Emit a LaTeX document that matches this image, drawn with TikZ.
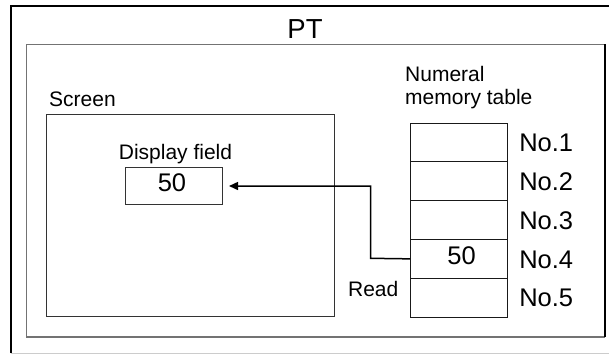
\documentclass[tikz,border=0pt]{standalone}
\usepackage{fontspec}
\setmainfont{Liberation Sans}
\usetikzlibrary{arrows.meta}
\begin{document}
\begin{tikzpicture}[x=1pt,y=-1pt,
  lbl/.style={inner sep=0pt,font=\fontsize{21}{24}\selectfont},
  nolbl/.style={inner sep=0pt,font=\fontsize{25.5}{28}\selectfont},
  cell/.style={draw=black!90,line width=1.1pt,minimum width=97pt,minimum height=38.8pt,inner sep=0pt,anchor=north west},
  thinbox/.style={draw=black!80,line width=1pt}]
\useasboundingbox (0,0) rectangle (609,354);
% outer frame
\draw[line width=1.8pt,black] (10.7,353) -- (10.7,5.8) -- (612,5.8);
\draw[line width=0.8pt,black!20] (10.7,353) -- (612,353);
% inner frame
\draw[line width=1.1pt,black!55] (605,44.3) -- (26.7,44.3) -- (26.7,337) -- (605,337);
\draw[line width=1.1pt,black] (605,44.3) -- (605,337);
\node[inner sep=0pt,font=\fontsize{27.5}{30}\selectfont,anchor=base] (pt) at (305,38) {PT};
% screen
\node[thinbox,anchor=north west,minimum width=288pt,minimum height=202pt,inner sep=0pt] (screen) at (46,114) {};
\node[lbl,anchor=base west] (screenlbl) at (49,106.5) {Screen};
\node[lbl,anchor=base] (dflbl) at (175.5,159) {Display field};
\node[thinbox,anchor=north west,minimum width=97pt,minimum height=37pt,inner sep=0pt] (df) at (125,167) {};
\node[nolbl,anchor=base] (dfval) at (172,191) {50};
% table
\node[lbl,anchor=base west] (num1) at (405,81.7) {Numeral};
\node[lbl,anchor=base west] (num2) at (405,104.5) {memory table};
\node[cell] (c1) at (410,122.5) {};
\node[cell] (c2) at (410,161.3) {};
\node[cell] (c3) at (410,200.1) {};
\node[cell] (c4) at (410,238.9) {};
\node[cell] (c5) at (410,277.7) {};
\node[nolbl,anchor=base] (c4val) at (461.5,264.5) {50};
\foreach \i in {1,...,5} {
  \node[nolbl,anchor=base west] (no\i) at ([xshift=11pt,yshift=-9.2pt]c\i.east) {No.\i};
}
\node[lbl,anchor=base east] (read) at (398.5,296.5) {Read};
% connector
\coordinate (bend) at (370.5,258.3);
\draw[line width=1.5pt,-{Triangle[length=9pt,width=8pt]}] (c4.west) -- (bend) |- ([xshift=6pt]df.east);
\end{tikzpicture}
\end{document}
